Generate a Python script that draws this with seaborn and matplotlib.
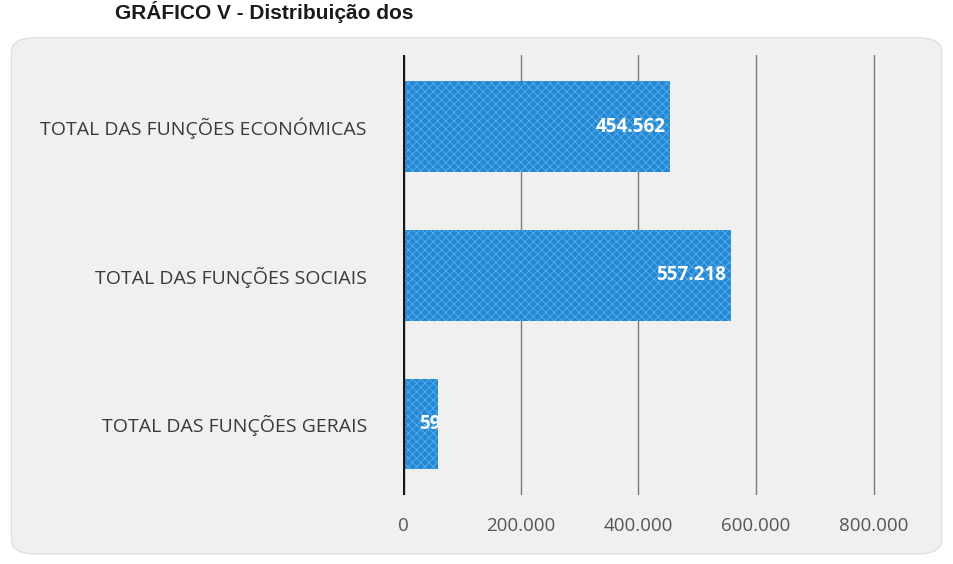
import matplotlib
matplotlib.use("Agg")
import matplotlib.pyplot as plt
from matplotlib.patches import FancyBboxPatch
from matplotlib.transforms import TransformedBbox
from matplotlib.ticker import FuncFormatter
import seaborn as sns

# Data (milhares)
categories = [
    "TOTAL DAS FUNÇÕES ECONÓMICAS",
    "TOTAL DAS FUNÇÕES SOCIAIS",
    "TOTAL DAS FUNÇÕES GERAIS",
]
values = [454562, 557218, 59500]
value_labels = ["454.562", "557.218", "59.500"]
xticks = [0, 200000, 400000, 600000, 800000]

BAR_COLOR = "#2189d6"
HATCH_COLOR = "#62ade6"

sns.set_theme(style="white")
plt.rcParams["font.family"] = ["Open Sans", "DejaVu Sans"]
plt.rcParams["hatch.linewidth"] = 0.6

fig = plt.figure(figsize=(9.54, 5.64), dpi=100)
fig.patch.set_facecolor("white")

# rounded light panel behind the chart
panel = FancyBboxPatch((0.012, 0.018), 0.975, 0.915,
                       boxstyle="round,pad=0,rounding_size=0.025",
                       transform=fig.transFigure, facecolor="#f0f0f0",
                       edgecolor="#e0e0e0", lw=1.0, zorder=-10)
fig.patches.append(panel)

fig.text(0.121, 0.978, "GRÁFICO V - Distribuição dos", fontsize=15,
         fontweight="bold", color="#1a1a1a", va="center", ha="left",
         family=["Liberation Sans", "DejaVu Sans"])

ax = fig.add_axes([0.4224, 0.122, 0.496, 0.78])
ax.set_facecolor("none")
ax.set_zorder(1)

sns.barplot(x=values, y=categories, orient="h", color=BAR_COLOR,
            width=0.61, ax=ax, saturation=1, zorder=3)
for p in ax.patches:
    p.set_hatch("xxxx")
    p.set_edgecolor(HATCH_COLOR)
    p.set_linewidth(0)

# value labels, right-aligned inside the bar end and cut off at the bar edge
for i, (v, lab) in enumerate(zip(values, value_labels)):
    bar = ax.patches[i]
    if v > 100000:
        t = ax.text(v - 9000, i, lab, color="white", fontsize=13.5,
                    fontweight="bold", ha="right", va="center", zorder=4)
    else:
        t = ax.text(v * 0.45, i, lab, color="white", fontsize=13.5,
                    fontweight="bold", ha="left", va="center", zorder=4)
    t.set_clip_box(TransformedBbox(bar.get_bbox(), ax.transData))
    t.set_clip_on(True)

ax.set_xlim(0, 804000)
ax.set_ylim(2.48, -0.48)
ax.set_xticks(xticks)
ax.xaxis.set_major_formatter(FuncFormatter(
    lambda v, _: "0" if v == 0 else f"{int(v):,}".replace(",", ".")))
ax.grid(axis="x", color="#7a7a7a", lw=1.0, zorder=1)
ax.grid(axis="y", visible=False)
ax.axvline(0, color="#151515", lw=2.4, zorder=5)
sns.despine(ax=ax, left=True, bottom=True, top=True, right=True)
ax.tick_params(axis="x", length=0, pad=16, labelsize=13.5, labelcolor="#555555")
ax.tick_params(axis="y", length=0, pad=26, labelsize=14, labelcolor="#3a3a3a")
ax.set_xlabel("")
ax.set_ylabel("")

fig.savefig("out.png", dpi=100)
